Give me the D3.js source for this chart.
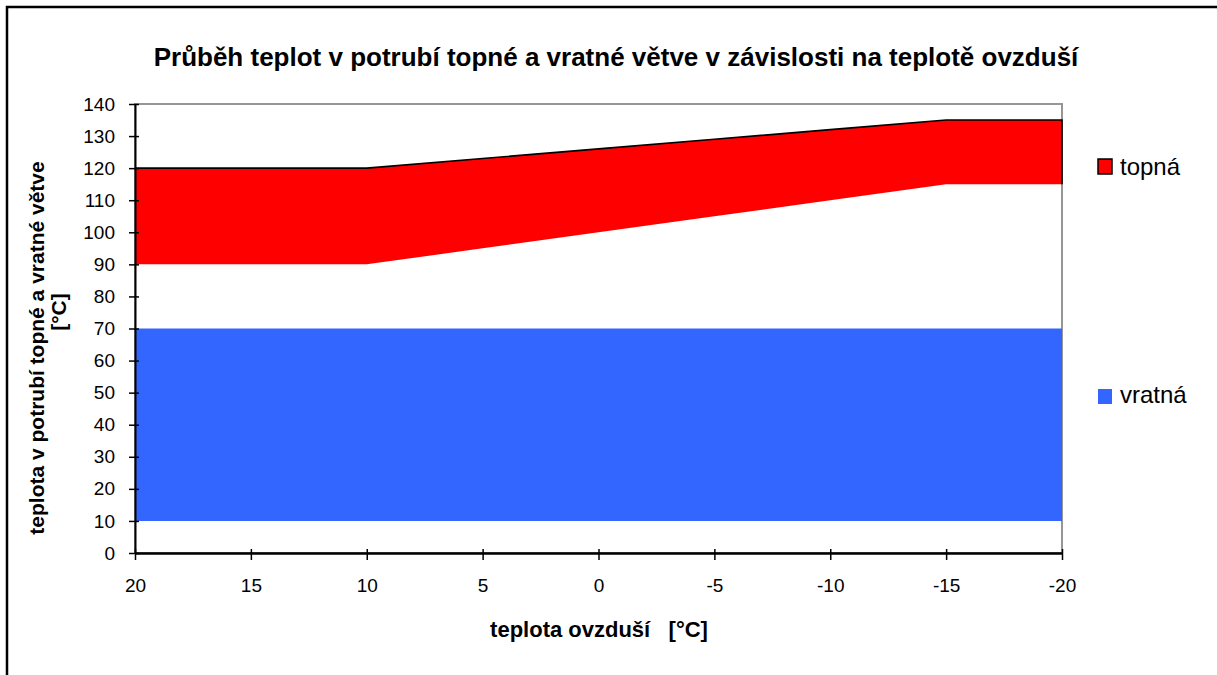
<!DOCTYPE html>
<html>
<head>
<meta charset="utf-8">
<script src="https://cdn.jsdelivr.net/npm/d3@7"></script>
<style>
html,body{margin:0;padding:0;background:#fff;overflow:hidden;}
text{font-family:"Liberation Sans",Arial,sans-serif;}
</style>
</head>
<body>
<svg id="chart" width="1217" height="675"></svg>
<script>
// ---- data ----
const categories = [20, 15, 10, 5, 0, -5, -10, -15, -20];
const vratnaLow  = [10, 10, 10, 10, 10, 10, 10, 10, 10];
const vratnaHigh = [70, 70, 70, 70, 70, 70, 70, 70, 70];
const topnaLow   = [90, 90, 90, 95, 100, 105, 110, 115, 115];
const topnaHigh  = [120, 120, 120, 123, 126, 129, 132, 135, 135];
const yTicks = [0, 10, 20, 30, 40, 50, 60, 70, 80, 90, 100, 110, 120, 130, 140];
const titleText = "Průběh teplot v potrubí topné a vratné větve v závislosti na teplotě ovzduší";
const yTitle1 = "teplota v potrubí topné a vratné větve";
const yTitle2 = "[°C]";
const xTitle = "teplota ovzduší   [°C]";
const seriesNames = ["topná", "vratná"];
const colors = {topna: "#FF0000", vratna: "#3366FF"};

const svg = d3.select("#chart");
const L = 135, R = 1062, T = 104, B = 553;
const x = d3.scaleLinear().domain([20, -20]).range([L, R]);
const y = d3.scaleLinear().domain([0, 140]).range([B, T]);
const FONT = "Liberation Sans, Arial, sans-serif";

// outer border
svg.append("rect").attr("x", 7).attr("y", 7).attr("width", 1230).attr("height", 700)
  .attr("fill", "#fff").attr("stroke", "#000").attr("stroke-width", 2.5);

// plot area border (gray)
svg.append("rect").attr("x", L).attr("y", T).attr("width", R - L).attr("height", B - T)
  .attr("fill", "#fff").attr("stroke", "#969696").attr("stroke-width", 2);

const idx = d3.range(categories.length);
// vratná area
svg.append("path").datum(idx)
  .attr("fill", colors.vratna)
  .attr("d", d3.area().x(i => x(categories[i])).y0(i => y(vratnaLow[i])).y1(i => y(vratnaHigh[i])));
// topná area
svg.append("path").datum(idx)
  .attr("fill", colors.topna)
  .attr("d", d3.area().x(i => x(categories[i])).y0(i => y(topnaLow[i])).y1(i => y(topnaHigh[i])));
// topná outline top + right edge
const last = categories.length - 1;
const outlinePts = idx.map(i => [x(categories[i]), y(topnaHigh[i])]).concat([[x(categories[last]), y(topnaLow[last])]]);
svg.append("path").datum(outlinePts)
  .attr("fill", "none").attr("stroke", "#000").attr("stroke-width", 1.6)
  .attr("d", d3.line());

// axes
const yAxis = d3.axisLeft(y).tickValues(yTicks).tickSize(6).tickSizeOuter(0).tickPadding(14);
const gy = svg.append("g").attr("transform", `translate(${L},0)`).call(yAxis);
gy.select(".domain").attr("stroke", "#000").attr("stroke-width", 2);
gy.selectAll(".tick line").attr("stroke", "#000").attr("stroke-width", 1.5).attr("x1", 4).attr("x2", -6);
gy.selectAll(".tick text").attr("font-size", 19).attr("fill", "#000").attr("font-family", FONT);

const xAxis = d3.axisBottom(x).tickValues(categories).tickFormat(d => String(d))
  .tickSize(8).tickSizeOuter(0).tickPadding(18);
const gx = svg.append("g").attr("transform", `translate(0,${B})`).call(xAxis);
gx.select(".domain").attr("stroke", "#000").attr("stroke-width", 2.5);
gx.selectAll(".tick line").attr("stroke", "#000").attr("stroke-width", 1.5).attr("y1", -4).attr("y2", 7);
gx.selectAll(".tick text").attr("font-size", 19).attr("fill", "#000").attr("font-family", FONT);

// title
svg.append("text").attr("x", 616).attr("y", 66).attr("text-anchor", "middle")
  .attr("font-size", 26).attr("font-weight", "bold").text(titleText);

// y title
svg.append("text").attr("transform", "translate(44,348) rotate(-90)")
  .attr("text-anchor", "middle").attr("font-size", 21).attr("font-weight", "bold").text(yTitle1);
svg.append("text").attr("transform", "translate(66,312) rotate(-90)")
  .attr("text-anchor", "middle").attr("font-size", 21).attr("font-weight", "bold").text(yTitle2);

// x title
svg.append("text").attr("x", 599).attr("y", 637).attr("text-anchor", "middle")
  .attr("font-size", 22).attr("font-weight", "bold").style("white-space", "pre").text(xTitle);

// legend
const leg = [
  {name: seriesNames[0], color: colors.topna, stroke: "#000", y: 159, ty: 175},
  {name: seriesNames[1], color: colors.vratna, stroke: "none", y: 389, ty: 403}
];
leg.forEach(d => {
  svg.append("rect").attr("x", 1098).attr("y", d.y).attr("width", 14).attr("height", 15)
    .attr("fill", d.color).attr("stroke", d.stroke).attr("stroke-width", d.stroke === "none" ? 0 : 1.5);
  svg.append("text").attr("x", 1120).attr("y", d.ty).attr("font-size", 24).text(d.name);
});
</script>
</body>
</html>
